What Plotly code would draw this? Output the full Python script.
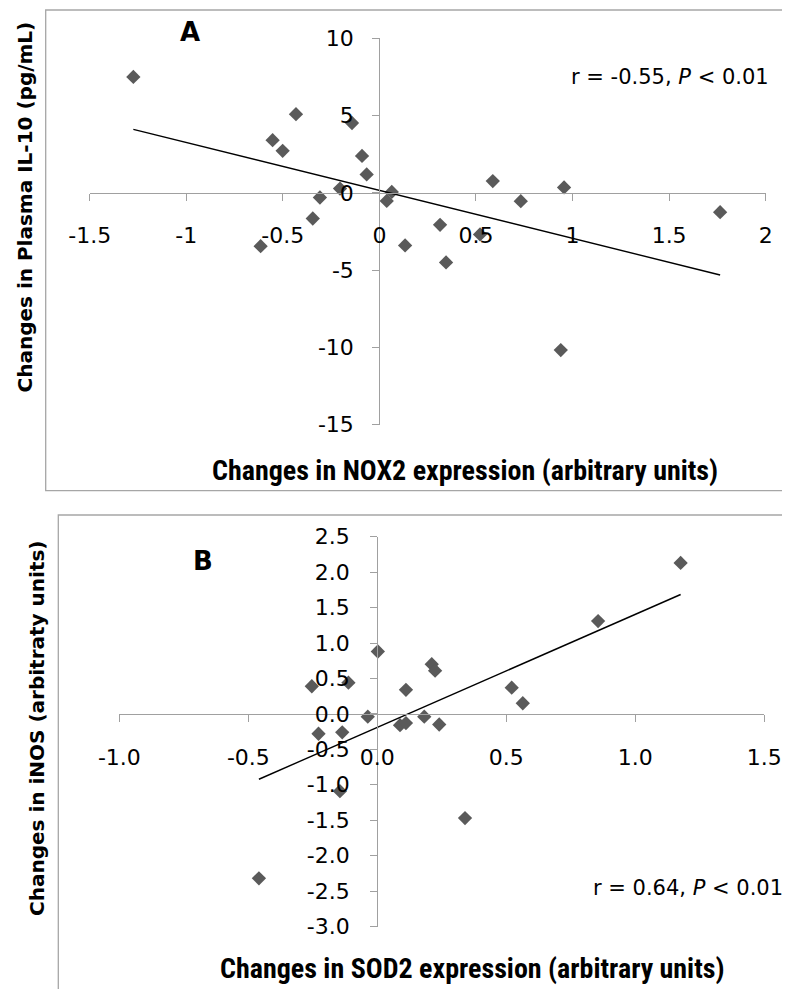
import numpy as np
import plotly.graph_objects as go

# ---------------- data ----------------
# Panel A: changes in NOX2 expression vs changes in plasma IL-10
nox2_change = [-1.274, -0.432, -0.142, -0.553, -0.501, -0.090, -0.066, -0.204,
               -0.308, -0.345, -0.615, 0.038, 0.064, 0.133, 0.314, 0.345,
               0.521, 0.587, 0.732, 0.956, 1.764, 0.939]
il10_change = [7.50, 5.09, 4.52, 3.41, 2.72, 2.39, 1.19, 0.28,
               -0.30, -1.66, -3.45, -0.52, 0.06, -3.40, -2.07, -4.50,
               -2.69, 0.76, -0.54, 0.35, -1.25, -10.17]

# Panel B: changes in SOD2 expression vs changes in iNOS
sod2_change = [0.002, -0.254, -0.112, 0.111, 0.211, 0.224, -0.037, -0.228,
               -0.136, 0.088, 0.111, 0.182, 0.240, -0.145, 1.176, 0.856,
               0.521, 0.564, 0.340, -0.459]
inos_change = [0.88, 0.39, 0.44, 0.34, 0.70, 0.61, -0.04, -0.28,
               -0.26, -0.16, -0.13, -0.04, -0.15, -1.09, 2.13, 1.31,
               0.37, 0.15, -1.47, -2.32]

xA_ticks = [-1.5, -1, -0.5, 0, 0.5, 1, 1.5, 2]
xA_labels = ["-1.5", "-1", "-0.5", "0", "0.5", "1", "1.5", "2"]
yA_ticks = [-15, -10, -5, 0, 5, 10]
yA_labels = ["-15", "-10", "-5", "0", "5", "10"]
xB_ticks = [-1.0, -0.5, 0.0, 0.5, 1.0, 1.5]
xB_labels = ["-1.0", "-0.5", "0.0", "0.5", "1.0", "1.5"]
yB_ticks = [-3.0, -2.5, -2.0, -1.5, -1.0, -0.5, 0.0, 0.5, 1.0, 1.5, 2.0, 2.5]
yB_labels = ["-3.0", "-2.5", "-2.0", "-1.5", "-1.0", "-0.5", "0.0", "0.5", "1.0", "1.5", "2.0", "2.5"]

# ---------------- layout helpers ----------------
OFF = 8                      # default page (body) margin of the html page
W, H = 790 - OFF, 989 - OFF  # figure size so it ends at the window edge
def px(x):
    return (x - OFF) / W
def py(y):
    return 1 - (y - OFF) / H

MARK = "#5a5a5a"
AXC = "#a0a0a0"
TICKFONT = dict(family="DejaVu Sans, Liberation Sans, sans-serif", size=22, color="black")
RFONT = dict(family="DejaVu Sans, Liberation Sans, sans-serif", size=21, color="black")
XTFONT = dict(family="Liberation Sans Narrow, Roboto Condensed, Liberation Sans, sans-serif", size=28, color="black")
YTFONT = dict(family="DejaVu Sans, Liberation Sans, sans-serif", size=20, color="black")

fig = go.Figure()

# Panel A
fig.add_trace(go.Scatter(x=nox2_change, y=il10_change, mode="markers",
                         marker=dict(symbol="diamond", size=11, color=MARK),
                         xaxis="x", yaxis="y", showlegend=False, hoverinfo="skip"))
cA = np.polyfit(nox2_change, il10_change, 1)
xsA = np.array([min(nox2_change), max(nox2_change)])
fig.add_trace(go.Scatter(x=xsA, y=np.polyval(cA, xsA), mode="lines",
                         line=dict(color="black", width=1.4),
                         xaxis="x", yaxis="y", showlegend=False, hoverinfo="skip"))

# Panel B
fig.add_trace(go.Scatter(x=sod2_change, y=inos_change, mode="markers",
                         marker=dict(symbol="diamond", size=11, color=MARK),
                         xaxis="x2", yaxis="y2", showlegend=False, hoverinfo="skip"))
cB = np.polyfit(sod2_change, inos_change, 1)
xsB = np.array([min(sod2_change), max(sod2_change)])
fig.add_trace(go.Scatter(x=xsB, y=np.polyval(cB, xsB), mode="lines",
                         line=dict(color="black", width=1.4),
                         xaxis="x2", yaxis="y2", showlegend=False, hoverinfo="skip"))

common = dict(showline=True, linecolor=AXC, linewidth=1.3, ticks="outside",
              tickcolor=AXC, tickwidth=1.3, ticklen=7, showgrid=False,
              zeroline=False, tickfont=TICKFONT, fixedrange=True)

fig.update_layout(
    width=W, height=H,
    margin=dict(l=0, r=0, t=0, b=0, autoexpand=False),
    paper_bgcolor="white", plot_bgcolor="rgba(0,0,0,0)",
    xaxis=dict(domain=[px(89.7), px(765.7)], range=[-1.5, 2], anchor="free",
               position=py(192.7), tickvals=xA_ticks, ticktext=xA_labels,
               ticklabelstandoff=16, **common),
    yaxis=dict(domain=[py(424.7), py(38.3)], range=[-15, 10], anchor="free",
               position=px(379.4), tickvals=yA_ticks, ticktext=yA_labels,
               ticklabelstandoff=14, **common),
    xaxis2=dict(domain=[px(119.4), px(764.2)], range=[-1, 1.5], anchor="free",
                position=py(714.3), tickvals=xB_ticks, ticktext=xB_labels,
                ticklabelstandoff=16, **common),
    yaxis2=dict(domain=[py(926.5), py(536.7)], range=[-3, 2.5], anchor="free",
                position=px(377.3), tickvals=yB_ticks, ticktext=yB_labels,
                ticklabelstandoff=16, **common),
    shapes=[
        dict(type="rect", xref="paper", yref="paper", x0=px(45.7), x1=px(800),
             y0=py(490.7), y1=py(10), line=dict(color="#a6a6a6", width=1.3)),
        dict(type="rect", xref="paper", yref="paper", x0=px(58.3), x1=px(800),
             y0=py(1000), y1=py(515), line=dict(color="#a6a6a6", width=1.3)),
    ],
)

ann = [
    dict(text="<b>A</b>", x=px(190), y=py(32), font=dict(family="DejaVu Sans", size=26, color="black")),
    dict(text="<b>B</b>", x=px(203), y=py(561), font=dict(family="DejaVu Sans", size=26, color="black")),
    dict(text="r = -0.55, <i>P</i> &lt; 0.01", x=px(669.5), y=py(77), font=RFONT),
    dict(text="r = 0.64, <i>P</i> &lt; 0.01", x=px(687.5), y=py(888), font=RFONT),
    dict(text="<b>Changes in NOX2 expression (arbitrary units)</b>", x=px(464.7), y=py(470), font=XTFONT),
    dict(text="<b>Changes in SOD2 expression (arbitrary units)</b>", x=px(472), y=py(968), font=XTFONT),
    dict(text="<b>Changes in Plasma IL-10 (pg/mL)</b>", x=px(25), y=py(207.5), textangle=-90, font=YTFONT),
    dict(text="<b>Changes in iNOS (arbitraty units)</b>", x=px(36.5), y=py(728.5), textangle=-90, font=YTFONT),
]
for a in ann:
    fig.add_annotation(xref="paper", yref="paper", showarrow=False,
                       xanchor="center", yanchor="middle", **a)

fig.write_html("out.html")
